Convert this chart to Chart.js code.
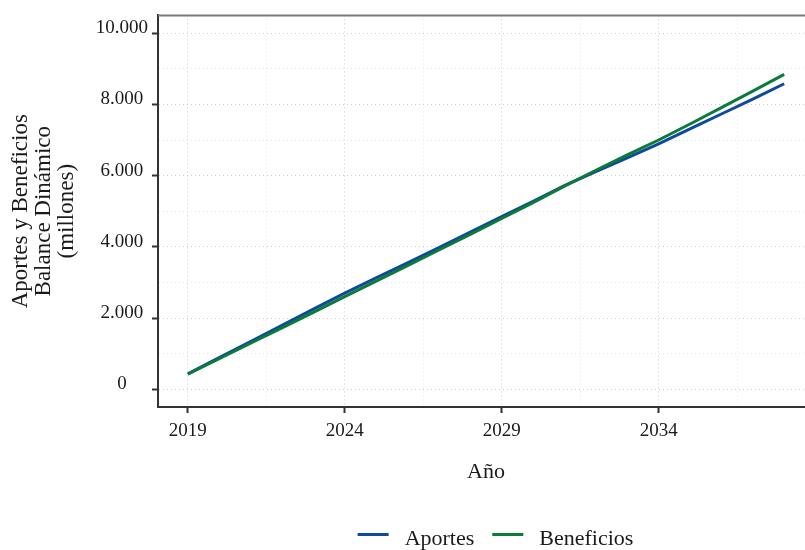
<!DOCTYPE html>
<html lang="es">
<head>
<meta charset="utf-8">
<title>Aportes y Beneficios - Balance Dinámico</title>
<script src="https://cdn.jsdelivr.net/npm/chart.js@4/dist/chart.umd.min.js"></script>
<style>
  html, body { margin: 0; padding: 0; background: #ffffff; overflow: hidden; }
  #wrap { width: 830px; height: 550px; }
  canvas { display: block; }
</style>
</head>
<body>
<div id="wrap"><canvas id="chart" width="830" height="550"></canvas></div>
<script>
// Years of the projection
const years = [2019, 2020, 2021, 2022, 2023, 2024, 2025, 2026, 2027, 2028,
               2029, 2030, 2031, 2032, 2033, 2034, 2035, 2036, 2037, 2038];

// Balance dinámico, millones
const aportes = [430, 885, 1340, 1795, 2250, 2700, 3125, 3550, 3975, 4410,
                 4850, 5280, 5720, 6110, 6500, 6890, 7310, 7730, 8150, 8580];
const beneficios = [420, 855, 1290, 1725, 2160, 2600, 3035, 3470, 3910, 4350,
                    4795, 5240, 5705, 6150, 6580, 7000, 7450, 7910, 8375, 8845];

const seriesNames = ['Aportes', 'Beneficios'];

// Axis ticks
const yMajorTicks = [0, 2000, 4000, 6000, 8000, 10000];
const yTickLabels = ['0', '2.000', '4.000', '6.000', '8.000', '10.000'];
const yMinorTicks = [1000, 3000, 5000, 7000, 9000];
const xMajorTicks = [2019, 2024, 2029, 2034];
const xTickLabels = ['2019', '2024', '2029', '2034'];
const xMinorTicks = [2021.5, 2026.5, 2031.5, 2036.5];

const FONT = "'Liberation Serif', 'Times New Roman', serif";
const COLORS = ['#0d4a9c', '#0b7b3c'];

const toPoints = vals => years.map((yr, i) => ({ x: yr, y: vals[i] }));

const isMajor = (list, v) => list.some(t => Math.abs(t - v) < 1e-6);

function setTicks(majors, minors) {
  return scale => {
    scale.ticks = majors.concat(minors).sort((a, b) => a - b).map(v => ({ value: v }));
  };
}

// Panel frame (top edge) drawn beneath the lines
const panelFrame = {
  id: 'panelFrame',
  beforeDatasetsDraw(chart) {
    const { ctx, chartArea: a } = chart;
    ctx.save();
    ctx.strokeStyle = '#7a7a7a';
    ctx.lineWidth = 2;
    ctx.beginPath();
    ctx.moveTo(a.left, a.top);
    ctx.lineTo(a.right, a.top);
    ctx.stroke();
    ctx.restore();
  }
};

// Legend row below the x-axis title
const bottomLegend = {
  id: 'bottomLegend',
  afterDraw(chart) {
    const { ctx } = chart;
    const lineLen = 31, gapText = 16, gapItem = 18;
    const centerX = 495.5, baseY = 545, lineY = 534.5;
    ctx.save();
    ctx.font = '22px ' + FONT;
    const items = chart.data.datasets.map(ds => ({
      label: ds.label, color: ds.borderColor, w: ctx.measureText(ds.label).width
    }));
    let total = 0;
    items.forEach((it, i) => { total += lineLen + gapText + it.w + (i ? gapItem : 0); });
    let x = centerX - total / 2;
    items.forEach((it, i) => {
      if (i) x += gapItem;
      ctx.strokeStyle = it.color;
      ctx.lineWidth = 3;
      ctx.beginPath();
      ctx.moveTo(x, lineY);
      ctx.lineTo(x + lineLen, lineY);
      ctx.stroke();
      x += lineLen + gapText;
      ctx.fillStyle = '#1a1a1a';
      ctx.textAlign = 'left';
      ctx.textBaseline = 'alphabetic';
      ctx.fillText(it.label, x, baseY);
      x += it.w;
    });
    ctx.restore();
  }
};

new Chart(document.getElementById('chart'), {
  type: 'line',
  data: {
    datasets: [
      { label: seriesNames[0], data: toPoints(aportes), borderColor: COLORS[0],
        backgroundColor: COLORS[0], borderWidth: 3, pointRadius: 0, tension: 0, order: 1 },
      { label: seriesNames[1], data: toPoints(beneficios), borderColor: COLORS[1],
        backgroundColor: COLORS[1], borderWidth: 3, pointRadius: 0, tension: 0, order: 0 }
    ]
  },
  options: {
    responsive: false,
    animation: false,
    events: [],
    layout: { padding: { left: 0, top: 15, right: 16, bottom: 0 } },
    plugins: {
      legend: { display: false },
      tooltip: { enabled: false }
    },
    scales: {
      x: {
        type: 'linear',
        min: 2018.05,
        max: 2038.95,
        afterBuildTicks: setTicks(xMajorTicks, xMinorTicks),
        afterFit: s => { s.height = 143; },
        grid: {
          color: c => isMajor(xMajorTicks, c.tick.value) ? '#cdcdcd' : '#e6e6e6',
          lineWidth: 1,
          drawTicks: true,
          tickLength: 6,
          tickWidth: 2,
          tickColor: c => isMajor(xMajorTicks, c.tick.value) ? '#333333' : 'rgba(0,0,0,0)'
        },
        border: { display: true, color: '#333333', width: 2, dash: [1, 3] },
        ticks: {
          autoSkip: false,
          maxRotation: 0,
          padding: 7,
          color: '#1a1a1a',
          font: { family: FONT, size: 19 },
          callback: v => {
            const i = xMajorTicks.findIndex(t => Math.abs(t - v) < 1e-6);
            return i >= 0 ? xTickLabels[i] : '';
          }
        },
        title: {
          display: true,
          text: 'Año',
          color: '#1a1a1a',
          font: { family: FONT, size: 22, lineHeight: 1.2 },
          padding: { top: 0, bottom: 65 }
        }
      },
      y: {
        type: 'linear',
        min: -500,
        max: 10500,
        afterBuildTicks: setTicks(yMajorTicks, yMinorTicks),
        afterFit: s => { s.width = 158; },
        grid: {
          color: c => isMajor(yMajorTicks, c.tick.value) ? '#cdcdcd' : '#e6e6e6',
          lineWidth: 1,
          drawTicks: true,
          tickLength: 6,
          tickWidth: 2,
          tickColor: c => isMajor(yMajorTicks, c.tick.value) ? '#333333' : 'rgba(0,0,0,0)'
        },
        border: { display: true, color: '#333333', width: 2, dash: [1, 3] },
        ticks: {
          autoSkip: false,
          padding: 4,
          crossAlign: 'center',
          labelOffset: -5,
          color: '#1a1a1a',
          font: { family: FONT, size: 19 },
          callback: v => {
            const i = yMajorTicks.findIndex(t => Math.abs(t - v) < 1e-6);
            return i >= 0 ? yTickLabels[i] : '';
          }
        },
        title: {
          display: true,
          text: ['Aportes y Beneficios', 'Balance Dinámico', '(millones)'],
          color: '#1a1a1a',
          font: { family: FONT, size: 23, lineHeight: 1.0 },
          padding: { top: 9.5, bottom: 0 }
        }
      }
    }
  },
  plugins: [panelFrame, bottomLegend]
});
</script>
</body>
</html>
